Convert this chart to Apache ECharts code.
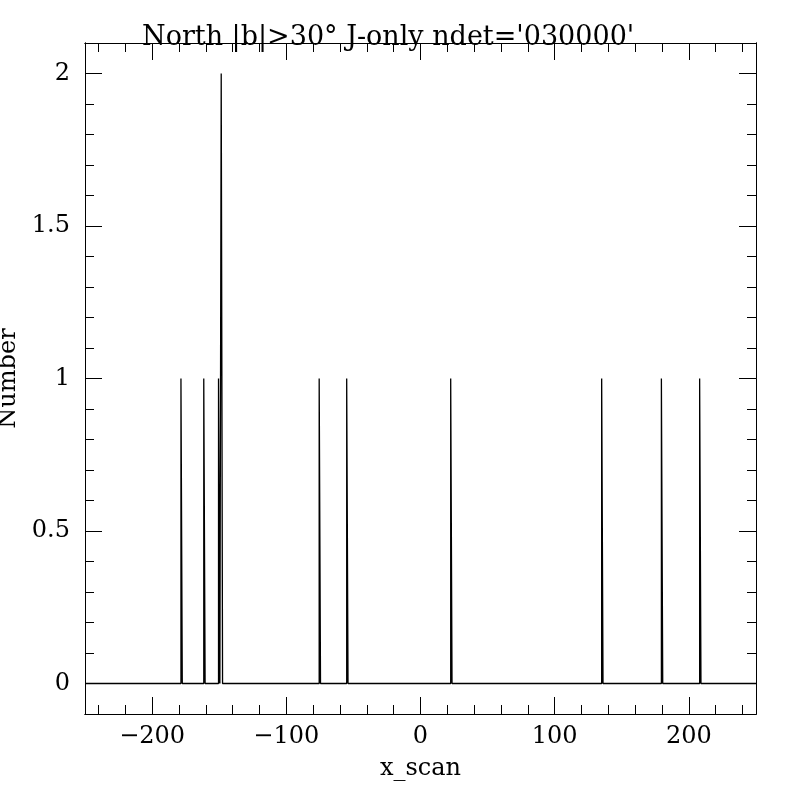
<!DOCTYPE html>
<html>
<head>
<meta charset="utf-8">
<script src="https://cdn.jsdelivr.net/npm/echarts@6/dist/echarts.min.js"></script>
<style>
  html, body { margin: 0; padding: 0; background: #fff; }
  #chart { width: 800px; height: 800px; }
</style>
</head>
<body>
<div id="chart"></div>
<script>
// histogram bins (centre of bin, count), bin width 1
var binCentres = [-178, -161, -150, -148, -75, -54.5, 23, 135.5, 180, 208.5]
var binCounts = [1, 1, 1, 2, 1, 1, 1, 1, 1, 1]
var binWidth = 1

var xMajor = [-200, -100, 0, 100, 200]
var xMinor = [-240, -220, -180, -160, -140, -120, -80, -60, -40, -20,
              20, 40, 60, 80, 120, 140, 160, 180, 220, 240]
var yMajor = [0, 0.5, 1, 1.5, 2]
var yMinor = [0.1, 0.2, 0.3, 0.4, 0.6, 0.7, 0.8, 0.9, 1.1, 1.2, 1.3, 1.4,
              1.6, 1.7, 1.8, 1.9]

var font = 'DejaVu Serif'

// step outline of the histogram
function stepLine() {
    var pts = [[-250, 0]]
    for (var i = 0; i < binCentres.length; i++) {
        var l = binCentres[i] - binWidth / 2
        var r = binCentres[i] + binWidth / 2
        pts.push([l, 0], [l, binCounts[i]], [r, binCounts[i]], [r, 0])
    }
    pts.push([250, 0])
    return pts
}

function minus(v) {
    return v < 0 ? '\u2212' + (-v) : String(v)
}

function xAx(pos, ticks, len, labels) {
    return {
        type: 'value', min: -250, max: 250, position: pos,
        axisLine: { onZero: false, lineStyle: { color: '#000', width: 1 } },
        axisTick: { inside: true, length: len, customValues: ticks,
                    lineStyle: { color: '#000', width: 1 } },
        axisLabel: labels ? { customValues: xMajor, formatter: minus, color: '#000',
                              fontFamily: font, fontSize: 24, margin: 11 } : { show: false },
        splitLine: { show: false },
        name: labels ? 'x_scan' : '', nameLocation: 'middle', nameGap: 43,
        nameTextStyle: { color: '#000', fontFamily: font, fontSize: 24 }
    }
}

function yAx(pos, ticks, len, labels) {
    return {
        type: 'value', min: -0.1, max: 2.1, position: pos,
        axisLine: { onZero: false, lineStyle: { color: '#000', width: 1 } },
        axisTick: { inside: true, length: len, customValues: ticks,
                    lineStyle: { color: '#000', width: 1 } },
        axisLabel: labels ? { customValues: yMajor, color: '#000',
                              fontFamily: font, fontSize: 24, margin: 15 } : { show: false },
        splitLine: { show: false },
        name: labels ? 'Number' : '', nameLocation: 'middle', nameGap: 12, nameRotate: 90,
        nameTextStyle: { color: '#000', fontFamily: font, fontSize: 24 }
    }
}

var myChart = echarts.init(document.getElementById('chart'))
var option = {
    backgroundColor: '#fff',
    animation: false,
    title: {
        text: "North |b|>30\u00b0 J-only ndet='030000'",
        left: 137, top: 19,
        textStyle: { color: '#000', fontFamily: font, fontSize: 27, fontWeight: 'normal' }
    },
    grid: { left: 85, top: 43, width: 671, height: 671, outerBoundsMode: 'none', containLabel: false },
    xAxis: [
        xAx('bottom', xMajor, 17, true),
        xAx('bottom', xMinor, 9, false),
        xAx('top', xMajor, 17, false),
        xAx('top', xMinor, 9, false)
    ],
    yAxis: [
        yAx('left', yMajor, 17, true),
        yAx('left', yMinor, 9, false),
        yAx('right', yMajor, 17, false),
        yAx('right', yMinor, 9, false)
    ],
    series: [{
        type: 'line',
        xAxisIndex: 0, yAxisIndex: 0,
        data: stepLine(),
        showSymbol: false,
        symbol: 'none',
        lineStyle: { color: '#000', width: 1.3 }
    }]
}
myChart.setOption(option)
</script>
</body>
</html>
